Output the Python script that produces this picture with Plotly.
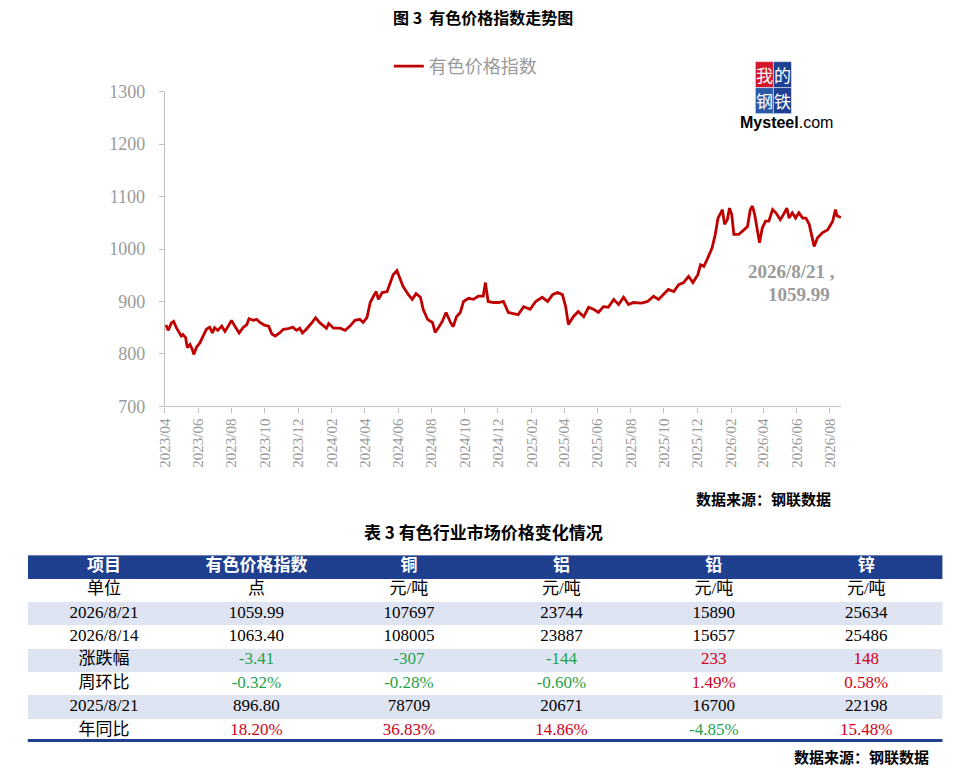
import plotly.graph_objects as go

# 有色价格指数
dates = [
    "2023-04-03", "2023-04-07", "2023-04-13", "2023-04-17", "2023-04-22", "2023-04-27",
    "2023-05-01", "2023-05-04", "2023-05-09", "2023-05-12", "2023-05-17", "2023-05-21",
    "2023-05-24", "2023-05-29", "2023-06-04", "2023-06-10", "2023-06-16", "2023-06-22",
    "2023-06-27", "2023-07-01", "2023-07-07", "2023-07-14", "2023-07-20", "2023-07-26",
    "2023-08-01", "2023-08-07", "2023-08-15", "2023-08-22", "2023-08-29", "2023-09-02",
    "2023-09-10", "2023-09-16", "2023-09-22", "2023-09-30", "2023-10-08", "2023-10-14",
    "2023-10-20", "2023-10-28", "2023-11-04", "2023-11-13", "2023-11-21", "2023-11-28",
    "2023-12-04", "2023-12-09", "2023-12-16", "2023-12-25", "2024-01-02", "2024-01-09",
    "2024-01-15", "2024-01-22", "2024-01-26", "2024-02-04", "2024-02-16", "2024-02-25",
    "2024-03-05", "2024-03-14", "2024-03-23", "2024-03-29", "2024-04-05", "2024-04-11",
    "2024-04-16", "2024-04-22", "2024-04-26", "2024-05-03", "2024-05-12", "2024-05-18",
    "2024-05-23", "2024-05-30", "2024-06-05", "2024-06-10", "2024-06-20", "2024-06-27",
    "2024-07-04", "2024-07-12", "2024-07-17", "2024-07-25", "2024-08-03", "2024-08-08",
    "2024-08-14", "2024-08-21", "2024-08-28", "2024-09-05", "2024-09-10", "2024-09-16",
    "2024-09-23", "2024-09-29", "2024-10-08", "2024-10-17", "2024-10-26", "2024-11-04",
    "2024-11-08", "2024-11-13", "2024-11-23", "2024-12-02", "2024-12-11", "2024-12-20",
    "2024-12-29", "2025-01-07", "2025-01-17", "2025-01-29", "2025-02-08", "2025-02-20",
    "2025-03-02", "2025-03-11", "2025-03-20", "2025-03-29", "2025-04-04", "2025-04-09",
    "2025-04-18", "2025-04-27", "2025-05-07", "2025-05-16", "2025-05-25", "2025-06-03",
    "2025-06-12", "2025-06-21", "2025-07-01", "2025-07-10", "2025-07-19", "2025-07-28",
    "2025-08-06", "2025-08-21", "2025-09-01", "2025-09-12", "2025-09-21", "2025-09-30",
    "2025-10-09", "2025-10-19", "2025-10-28", "2025-11-06", "2025-11-15", "2025-11-23",
    "2025-12-02", "2025-12-07", "2025-12-13", "2025-12-19", "2025-12-28", "2026-01-03",
    "2026-01-08", "2026-01-13", "2026-01-16", "2026-01-20", "2026-01-25", "2026-01-29",
    "2026-02-02", "2026-02-06", "2026-02-15", "2026-02-25", "2026-03-03", "2026-03-08",
    "2026-03-12", "2026-03-16", "2026-03-21", "2026-03-25", "2026-03-30", "2026-04-05",
    "2026-04-11", "2026-04-18", "2026-04-24", "2026-05-02", "2026-05-08", "2026-05-14",
    "2026-05-18", "2026-05-24", "2026-05-30", "2026-06-05", "2026-06-12", "2026-06-18",
    "2026-06-24", "2026-06-29", "2026-07-03", "2026-07-09", "2026-07-18", "2026-07-28",
    "2026-08-06", "2026-08-11", "2026-08-14", "2026-08-21",
]
index_values = [
    855, 845, 859, 862, 850, 840,
    834, 837, 831, 812, 818, 809,
    799, 813, 821, 834, 847, 851,
    840, 850, 845, 853, 843, 853,
    864, 853, 840, 850, 856, 867,
    864, 866, 860, 855, 853, 838,
    834, 840, 847, 848, 851, 845,
    849, 840, 847, 858, 869, 860,
    855, 849, 858, 849, 849, 845,
    853, 864, 866, 860, 869, 898,
    908, 919, 904, 917, 919, 938,
    951, 959, 942, 929, 913, 904,
    915, 908, 885, 866, 860, 841,
    850, 862, 879, 860, 852, 871,
    879, 900, 906, 904, 910, 910,
    936, 900, 898, 898, 900, 879,
    877, 875, 890, 885, 900, 908,
    900, 913, 917, 913, 890, 856,
    871, 881, 871, 889, 885, 879,
    890, 889, 904, 894, 908, 894,
    898, 896.80, 900, 910, 904, 913,
    923, 919, 932, 936, 948, 936,
    951, 970, 967, 980, 1002, 1028,
    1059, 1069, 1075, 1047, 1056, 1078,
    1066, 1028, 1028, 1037, 1043, 1075,
    1082, 1066, 1040, 1012, 1040, 1053,
    1053, 1075, 1069, 1056, 1066, 1078,
    1059, 1069, 1059, 1069, 1059, 1059,
    1047, 1024, 1005, 1021, 1031, 1037,
    1053, 1075, 1063.40, 1059.99,
]

# 表3 有色行业市场价格变化情况
columns = ["项目", "有色价格指数", "铜", "铝", "铅", "锌"]
row_labels = ["单位", "2026/8/21", "2026/8/14", "涨跌幅", "周环比", "2025/8/21", "年同比"]
units = ["点", "元/吨", "元/吨", "元/吨", "元/吨"]
price_now = ["1059.99", "107697", "23744", "15890", "25634"]
price_last_week = ["1063.40", "108005", "23887", "15657", "25486"]
change = ["-3.41", "-307", "-144", "233", "148"]
week_ratio = ["-0.32%", "-0.28%", "-0.60%", "1.49%", "0.58%"]
price_last_year = ["896.80", "78709", "20671", "16700", "22198"]
year_ratio = ["18.20%", "36.83%", "14.86%", "-4.85%", "15.48%"]

W, H = 966, 774
BLUE = "#1f3f8f"
LAV = "#dfe4f3"
RED = "#c00000"
GREEN = "#1fa34a"
UP = "#d0021b"
GREY = "#9a9a9a"
SERIF = "Liberation Serif, Noto Sans CJK SC"
CJK = "Noto Sans CJK SC"


def px(x):
    return x / W


def py(y):
    return 1 - y / H


fig = go.Figure()

fig.add_trace(go.Scatter(
    x=dates, y=index_values, mode="lines", name="有色价格指数",
    line=dict(color=RED, width=2.8), showlegend=True,
))

# ---- table, drawn on its own category axes (x2 = column, y2 = row) ----
body_rows = [units, price_now, price_last_week, change, week_ratio, price_last_year, year_ratio]
n_cols = len(columns)
n_rows = len(row_labels) + 1

# row bands: 0 = header blue, 1 = white, 2 = lavender
band = [[0] * n_cols] + [[1 if r % 2 == 0 else 2] * n_cols for r in range(len(row_labels))]
fig.add_trace(go.Heatmap(
    z=band, x=list(range(n_cols)), y=list(range(n_rows)),
    colorscale=[[0, BLUE], [0.5, "white"], [1, LAV]], zmin=0, zmax=2,
    showscale=False, hoverinfo="skip", xaxis="x2", yaxis="y2",
))

fig.add_trace(go.Scatter(
    x=list(range(n_cols)), y=[0] * n_cols, mode="text",
    text=["<b>%s</b>" % c for c in columns],
    textfont=dict(family=CJK, size=17, color="white"),
    showlegend=False, hoverinfo="skip", xaxis="x2", yaxis="y2",
))


def txt_color(row, v):
    if row in (3, 4, 6):
        return GREEN if v.startswith("-") else UP
    return "black"


cx, cy, ct, cc = [], [], [], []
for r, lab in enumerate(row_labels):
    cx.append(0)
    cy.append(r + 1)
    ct.append(lab)
    cc.append("black")
    for i, v in enumerate(body_rows[r]):
        cx.append(i + 1)
        cy.append(r + 1)
        ct.append(v)
        cc.append(txt_color(r, v))

fig.add_trace(go.Scatter(
    x=cx, y=cy, mode="text", text=ct,
    textfont=dict(family=SERIF, size=17, color=cc),
    showlegend=False, hoverinfo="skip", xaxis="x2", yaxis="y2",
))

fig.update_layout(
    width=W, height=H, margin=dict(l=0, r=0, t=0, b=0),
    paper_bgcolor="white", plot_bgcolor="white",
    xaxis=dict(
        domain=[px(158.2), px(840.4)], type="date",
        range=["2023-04-01", "2026-08-22"],
        tick0="2023-04-01", dtick="M2", tickformat="%Y/%m", tickangle=-90,
        ticks="outside", ticklen=5, tickcolor="#bfbfbf",
        showline=True, linecolor="#bfbfbf", linewidth=1.3, showgrid=False, zeroline=False,
        tickfont=dict(family="Liberation Serif", size=15, color=GREY),
    ),
    yaxis=dict(
        domain=[py(406.9), py(83.8)], range=[700, 1300], dtick=100,
        ticks="outside", ticklen=5, tickcolor="#bfbfbf", ticklabelstandoff=10,
        showline=True, linecolor="#bfbfbf", linewidth=1.3, showgrid=False, zeroline=False,
        tickfont=dict(family="Liberation Serif", size=18, color=GREY),
    ),
    xaxis2=dict(domain=[px(20), px(942.3)], range=[-0.5, n_cols - 0.5], visible=False,
                anchor="y2"),
    yaxis2=dict(domain=[py(751.4), py(559.6)], range=[n_rows - 0.5, -0.5], visible=False,
                anchor="x2"),
    legend=dict(
        x=px(384), y=py(58), xanchor="left", yanchor="middle", orientation="h",
        font=dict(family=CJK, size=18, color=GREY), bgcolor="rgba(0,0,0,0)",
        itemwidth=30,
    ),
)

annotations = [
    dict(text="<b>图 3  有色价格指数走势图</b>", x=px(479), y=py(7), size=16, color="black", xanchor="center", family=CJK),
    dict(text="<b>2026/8/21 ,</b>", x=px(790), y=py(268.4), size=19, color=GREY, xanchor="center", family="Liberation Serif"),
    dict(text="<b>1059.99</b>", x=px(798), y=py(292), size=19, color=GREY, xanchor="center", family="Liberation Serif"),
    dict(text="<b>数据来源：钢联数据</b>", x=px(832), y=py(501), size=15, color="black", xanchor="right", family=CJK),
    dict(text="<b>表 3 有色行业市场价格变化情况</b>", x=px(479), y=py(535), size=17, color="black", xanchor="center", family=CJK),
    dict(text="<b>数据来源：钢联数据</b>", x=px(931), y=py(766), size=15, color="black", xanchor="right", family=CJK),
    # logo text
    dict(text="我", x=px(762.6), y=py(66.4), size=17, color="white", xanchor="center", family=CJK),
    dict(text="的", x=px(780.8), y=py(66.4), size=17, color="white", xanchor="center", family=CJK),
    dict(text="钢", x=px(762.6), y=py(93), size=17, color="white", xanchor="center", family=CJK),
    dict(text="铁", x=px(780.8), y=py(93), size=17, color="white", xanchor="center", family=CJK),
    dict(text="<b>Mysteel</b>.com", x=px(785), y=py(115.6), size=16, color="black", xanchor="center", family="Liberation Sans Narrow, Liberation Sans"),
]
for a in annotations:
    fig.add_annotation(
        text=a["text"], x=a["x"], y=a["y"], xref="paper", yref="paper",
        xanchor=a["xanchor"], yanchor="middle", showarrow=False,
        font=dict(size=a["size"], color=a["color"], family=a["family"]),
    )

shapes = [
    dict(x0=753.6, x1=771.8, y0=53, y1=79.7, color="#d4162c"),
    dict(x0=771.8, x1=790, y0=53, y1=79.7, color="#1d3f94"),
    dict(x0=753.6, x1=771.8, y0=79.7, y1=106.4, color="#2b5aa8"),
    dict(x0=771.8, x1=790, y0=79.7, y1=106.4, color="#1d3f94"),
]
for s in shapes:
    fig.add_shape(type="rect", xref="paper", yref="paper",
                  x0=px(s["x0"]), x1=px(s["x1"]), y0=py(s["y1"]), y1=py(s["y0"]),
                  fillcolor=s["color"], line=dict(width=0.5, color="white"), layer="above")

# thick blue rule under the table
fig.add_shape(type="line", xref="paper", yref="paper",
              x0=px(20), x1=px(942.3), y0=py(750), y1=py(750),
              line=dict(color=BLUE, width=3))

fig.write_html("out.html", config={"displayModeBar": False},
               post_script="document.body.style.margin='0';")
